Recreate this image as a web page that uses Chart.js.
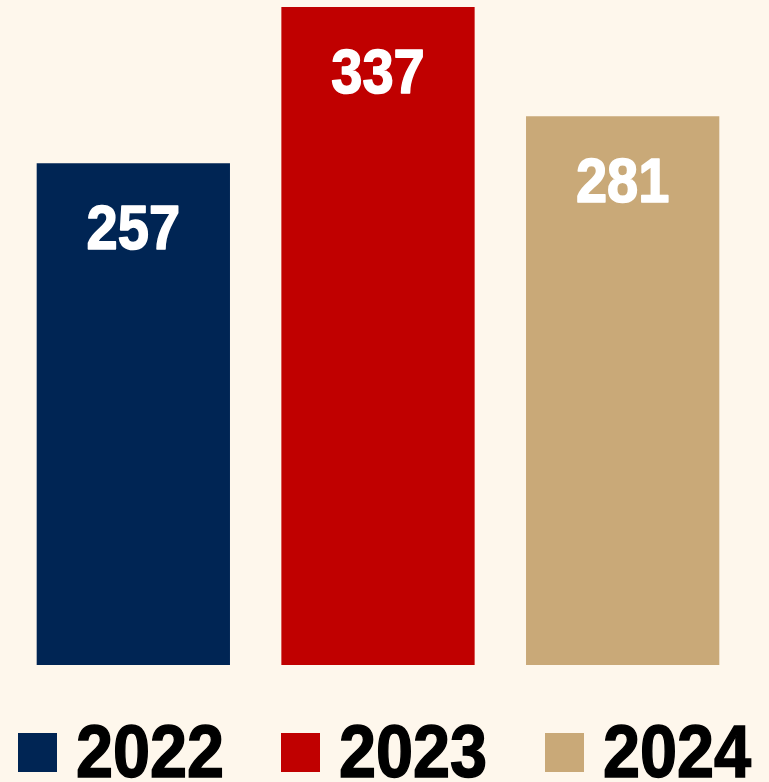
<!DOCTYPE html>
<html>
<head>
<meta charset="utf-8">
<script src="https://cdn.jsdelivr.net/npm/chart.js@4/dist/chart.umd.min.js"></script>
<style>
  html, body { margin: 0; padding: 0; background: #FEF7EC; }
  #wrap { position: relative; width: 769px; height: 782px; overflow: hidden; }
  #chartBox { position: absolute; left: 0; top: 0; width: 769px; height: 700px; }
  #legend {
    position: absolute; left: 0; top: 715px; width: 769px; height: 74px;
    display: flex; justify-content: center; align-items: center; gap: 57px;
    font-family: "Liberation Sans", Arial, sans-serif;
    font-weight: bold; font-size: 74px; line-height: 74px; color: #000;
    -webkit-text-stroke: 1.5px #000;
  }
  .item { display: flex; align-items: center; }
  .swatch { width: 39px; height: 39px; margin-right: 19px; }
  .label { display: inline-block; transform-origin: 0 50%; transform: scaleX(0.9); white-space: nowrap; }
</style>
</head>
<body>
<div id="wrap">
  <div id="chartBox"><canvas id="c"></canvas></div>
  <div id="legend"></div>
</div>
<script>
// Yearly totals
const years = ['2022', '2023', '2024'];
const totals = [257, 337, 281];
const barColors = ['#002554', '#C00000', '#C9A978'];

const FONT_FAMILY = '"Liberation Sans", Arial, sans-serif';
const NARROW = 0.89; // horizontal squeeze for a condensed look

// Value labels drawn inside the top of each bar
const valueLabels = {
  id: 'valueLabels',
  afterDatasetsDraw(chart) {
    const ctx = chart.ctx;
    const meta = chart.getDatasetMeta(0);
    const data = chart.data.datasets[0].data;
    meta.data.forEach((bar, i) => {
      ctx.save();
      ctx.fillStyle = '#FFFFFF';
      ctx.strokeStyle = '#FFFFFF';
      ctx.lineWidth = 1.6;
      ctx.lineJoin = 'round';
      ctx.font = 'bold 63px ' + FONT_FAMILY;
      ctx.textAlign = 'center';
      ctx.textBaseline = 'alphabetic';
      ctx.translate(bar.x, bar.y + 86);
      ctx.scale(NARROW, 1);
      ctx.fillText(String(data[i]), 0, 0);
      ctx.strokeText(String(data[i]), 0, 0);
      ctx.restore();
    });
  }
};

new Chart(document.getElementById('c'), {
  type: 'bar',
  data: {
    labels: years,
    datasets: [{
      data: totals,
      backgroundColor: barColors,
      borderWidth: 0,
      categoryPercentage: 1.0,
      barPercentage: 0.79
    }]
  },
  options: {
    responsive: true,
    maintainAspectRatio: false,
    animation: false,
    layout: { padding: { left: 11, right: 24, top: 7, bottom: 35 } },
    plugins: { legend: { display: false }, tooltip: { enabled: false } },
    scales: {
      x: { display: false },
      y: { display: false, min: 0, max: 337 }
    }
  },
  plugins: [valueLabels]
});

// Legend built from the same categories and colours
const legend = document.getElementById('legend');
years.forEach((y, i) => {
  const item = document.createElement('div');
  item.className = 'item';
  const sw = document.createElement('div');
  sw.className = 'swatch';
  sw.style.background = barColors[i];
  const txt = document.createElement('span');
  txt.className = 'label';
  txt.textContent = y;
  item.appendChild(sw);
  item.appendChild(txt);
  legend.appendChild(item);
  // compensate layout width for the horizontal squeeze
  const w = txt.getBoundingClientRect().width / 0.9;
  txt.style.marginRight = (-(1 - 0.9) * w) + 'px';
});
</script>
</body>
</html>
